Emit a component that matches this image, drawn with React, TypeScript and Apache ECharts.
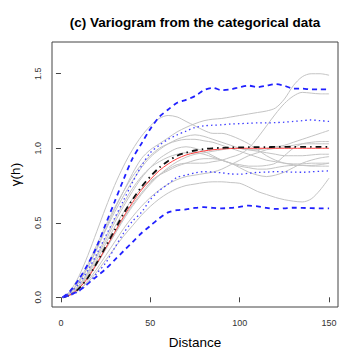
import React, { useEffect, useRef } from "react";
import * as echarts from "echarts";

const distances = [1, 5, 10, 15, 20, 25, 30, 35, 40, 45, 50, 55, 60, 65, 70, 75, 80, 85, 90, 95, 100, 105, 110, 115, 120, 125, 130, 135, 140, 145, 150];

const xTicks = [0, 50, 100, 150];
const yTicks = [0, 0.5, 1.0, 1.5];

// simulated variograms (gray)
const sim1 = [0, 0.03, 0.1, 0.2, 0.33, 0.46, 0.59, 0.71, 0.83, 0.93, 0.99, 1.03, 1.07, 1.11, 1.14, 1.165, 1.185, 1.195, 1.2, 1.21, 1.22, 1.23, 1.24, 1.25, 1.27, 1.33, 1.42, 1.48, 1.5, 1.5, 1.49];
const sim2 = [0, 0.02, 0.07, 0.14, 0.23, 0.33, 0.43, 0.53, 0.62, 0.7, 0.77, 0.82, 0.86, 0.89, 0.9, 0.9, 0.9, 0.91, 0.92, 0.94, 0.96, 1.0, 1.07, 1.15, 1.23, 1.3, 1.35, 1.375, 1.37, 1.365, 1.365];
const sim3 = [0, 0.04, 0.14, 0.28, 0.44, 0.6, 0.75, 0.88, 0.99, 1.08, 1.15, 1.2, 1.22, 1.21, 1.18, 1.15, 1.12, 1.1, 1.1, 1.085, 1.06, 1.03, 0.99, 0.95, 0.92, 0.9, 0.89, 0.885, 0.885, 0.89, 0.9];
const sim4 = [0, 0.03, 0.1, 0.2, 0.32, 0.45, 0.57, 0.68, 0.78, 0.87, 0.94, 0.99, 1.03, 1.06, 1.08, 1.09, 1.08, 1.06, 1.04, 1.02, 1.0, 0.99, 0.99, 1.0, 1.01, 1.02, 1.04, 1.06, 1.08, 1.1, 1.12];
const sim5 = [0, 0.02, 0.08, 0.16, 0.27, 0.38, 0.5, 0.61, 0.71, 0.8, 0.87, 0.93, 0.97, 1.0, 1.01, 1.0, 0.98, 0.95, 0.92, 0.9, 0.89, 0.88, 0.88, 0.885, 0.9, 0.95, 1.0, 1.03, 1.04, 1.045, 1.045];
const sim6 = [0, 0.02, 0.06, 0.13, 0.22, 0.32, 0.42, 0.52, 0.61, 0.69, 0.76, 0.82, 0.87, 0.91, 0.94, 0.96, 0.97, 0.98, 0.99, 1.0, 1.0, 0.99, 0.98, 0.97, 0.96, 0.95, 0.95, 0.95, 0.955, 0.96, 0.96];
const sim7 = [0, 0.02, 0.07, 0.15, 0.25, 0.36, 0.47, 0.57, 0.66, 0.73, 0.78, 0.82, 0.85, 0.88, 0.9, 0.92, 0.93, 0.93, 0.92, 0.9, 0.87, 0.84, 0.82, 0.81, 0.82, 0.84, 0.87, 0.9, 0.92, 0.935, 0.944];
const sim8 = [0, 0.03, 0.11, 0.22, 0.35, 0.48, 0.6, 0.71, 0.81, 0.89, 0.95, 1.0, 1.03, 1.05, 1.06, 1.06, 1.05, 1.04, 1.02, 1.0, 0.98, 0.96, 0.94, 0.92, 0.91, 0.9, 0.895, 0.895, 0.9, 0.9, 0.9];
const sim9 = [0, 0.015, 0.05, 0.1, 0.17, 0.25, 0.33, 0.41, 0.48, 0.55, 0.61, 0.66, 0.7, 0.73, 0.75, 0.76, 0.77, 0.775, 0.775, 0.77, 0.765, 0.74, 0.71, 0.69, 0.67, 0.655, 0.645, 0.64, 0.66, 0.72, 0.8];
const sim10 = [0, 0.02, 0.08, 0.17, 0.28, 0.4, 0.52, 0.63, 0.73, 0.81, 0.87, 0.91, 0.94, 0.96, 0.97, 0.97, 0.96, 0.94, 0.92, 0.9, 0.88, 0.87, 0.86, 0.86, 0.87, 0.88, 0.885, 0.885, 0.88, 0.88, 0.88];
const sim11 = [0, 0.015, 0.05, 0.11, 0.19, 0.28, 0.37, 0.46, 0.54, 0.61, 0.67, 0.72, 0.76, 0.79, 0.81, 0.82, 0.83, 0.84, 0.86, 0.89, 0.92, 0.95, 0.97, 0.99, 1.0, 1.01, 1.02, 1.03, 1.03, 1.03, 1.03];
const simulations = [sim1, sim2, sim3, sim4, sim5, sim6, sim7, sim8, sim9, sim10, sim11];

// model (red)
const model = [0, 0.015, 0.06, 0.13, 0.225, 0.33, 0.435, 0.54, 0.635, 0.72, 0.79, 0.85, 0.895, 0.93, 0.955, 0.97, 0.982, 0.99, 0.995, 0.998, 1.0, 1.0, 1.0, 1.0, 1.0, 1.0, 1.0, 1.0, 1.0, 1.0, 1.0];
// mean of simulations (black dash-dot)
const meanVario = [0, 0.014, 0.058, 0.13, 0.23, 0.34, 0.45, 0.56, 0.655, 0.74, 0.81, 0.87, 0.915, 0.95, 0.97, 0.985, 0.995, 1.0, 1.003, 1.005, 1.006, 1.007, 1.008, 1.008, 1.009, 1.01, 1.01, 1.01, 1.01, 1.01, 1.01];
// envelopes
const upperOuter = [0, 0.04, 0.12, 0.22, 0.34, 0.49, 0.64, 0.79, 0.93, 1.03, 1.13, 1.21, 1.26, 1.305, 1.325, 1.35, 1.39, 1.405, 1.39, 1.395, 1.41, 1.42, 1.41, 1.42, 1.43, 1.42, 1.4, 1.4, 1.395, 1.395, 1.395];
const lowerOuter = [0, 0.015, 0.045, 0.09, 0.14, 0.19, 0.25, 0.31, 0.37, 0.43, 0.48, 0.53, 0.57, 0.585, 0.59, 0.6, 0.605, 0.6, 0.597, 0.6, 0.607, 0.615, 0.61, 0.6, 0.593, 0.597, 0.601, 0.6, 0.598, 0.597, 0.597];
const upperInner = [0, 0.03, 0.09, 0.18, 0.29, 0.41, 0.53, 0.65, 0.77, 0.88, 0.97, 1.02, 1.06, 1.09, 1.115, 1.14, 1.15, 1.155, 1.157, 1.163, 1.165, 1.168, 1.17, 1.17, 1.172, 1.175, 1.18, 1.185, 1.19, 1.185, 1.18];
const lowerInner = [0, 0.012, 0.04, 0.09, 0.16, 0.23, 0.33, 0.43, 0.51, 0.57, 0.655, 0.715, 0.76, 0.805, 0.82, 0.835, 0.843, 0.84, 0.835, 0.828, 0.826, 0.832, 0.838, 0.84, 0.843, 0.842, 0.84, 0.839, 0.842, 0.846, 0.848];

const FONT = '"Liberation Sans", Arial, Helvetica, sans-serif';

const pairs = (ys: number[]) => distances.map((d, i) => [d, ys[i]]);

export default function App() {
  const ref = useRef<HTMLDivElement>(null);
  useEffect(() => {
    if (!ref.current) return;
    const chart = echarts.init(ref.current, undefined, { renderer: "svg" });
    const lineSeries = (name: string, ys: number[], color: string, width: number, type: any) => ({
      name,
      type: "line",
      data: pairs(ys),
      showSymbol: false,
      symbol: "none",
      smooth: 0.3,
      silent: true,
      lineStyle: { color, width, type },
    });
    const series: any[] = [];
    simulations.forEach((s, i) => series.push(lineSeries("sim" + (i + 1), s, "#C4C4C4", 1, "solid")));
    series.push(lineSeries("model", model, "#FF4040", 1, "solid"));
    series.push(lineSeries("mean", meanVario, "#111111", 1.8, [6, 4, 1.5, 4]));
    series.push(lineSeries("upperOuter", upperOuter, "#2020FF", 1.8, [5, 4]));
    series.push(lineSeries("lowerOuter", lowerOuter, "#2020FF", 1.8, [5, 4]));
    series.push(lineSeries("upperInner", upperInner, "#4040FF", 1.3, [1.5, 3]));
    series.push(lineSeries("lowerInner", lowerInner, "#4040FF", 1.3, [1.5, 3]));

    chart.setOption({
      animation: false,
      backgroundColor: "#ffffff",
      grid: {
        left: 52,
        right: 22,
        top: 42,
        bottom: 53,
        show: true,
        borderColor: "#444",
        borderWidth: 1,
        backgroundColor: "transparent",
      },
      graphic: [
        {
          type: "text",
          x: 195,
          y: 22,
          style: {
            text: "(c) Variogram from the categorical data",
            fontFamily: FONT,
            fontSize: 13.5,
            fontWeight: "bold",
            fill: "#000",
            align: "center",
            verticalAlign: "middle",
          },
        },
      ],
      xAxis: {
        type: "value",
        min: -5,
        max: 155,
        name: "Distance",
        nameLocation: "middle",
        nameGap: 28,
        nameTextStyle: { fontFamily: FONT, fontSize: 13.5, color: "#000" },
        axisLine: { show: false },
        splitLine: { show: false },
        axisTick: { show: true, inside: false, length: 5, lineStyle: { color: "#444" }, customValues: xTicks },
        axisLabel: {
          customValues: xTicks,
          fontFamily: FONT,
          fontSize: 9,
          color: "#333",
          margin: 11,
          formatter: (v: number) => String(v),
        },
      },
      yAxis: {
        type: "value",
        min: -0.065,
        max: 1.713,
        name: "γ(h)",
        nameLocation: "middle",
        nameGap: 30,
        nameRotate: 90,
        nameTextStyle: { fontFamily: FONT, fontSize: 13.5, color: "#000" },
        axisLine: { show: false },
        splitLine: { show: false },
        axisTick: { show: true, inside: false, length: 5, lineStyle: { color: "#444" }, customValues: yTicks },
        axisLabel: {
          customValues: yTicks,
          rotate: 90,
          fontFamily: FONT,
          fontSize: 9,
          color: "#333",
          margin: 10,
          formatter: (v: number) => v.toFixed(1),
        },
      },
      series,
    });
    return () => chart.dispose();
  }, []);
  return <div ref={ref} style={{ position: "fixed", left: 0, top: 0, width: 360, height: 360 }} />;
}
